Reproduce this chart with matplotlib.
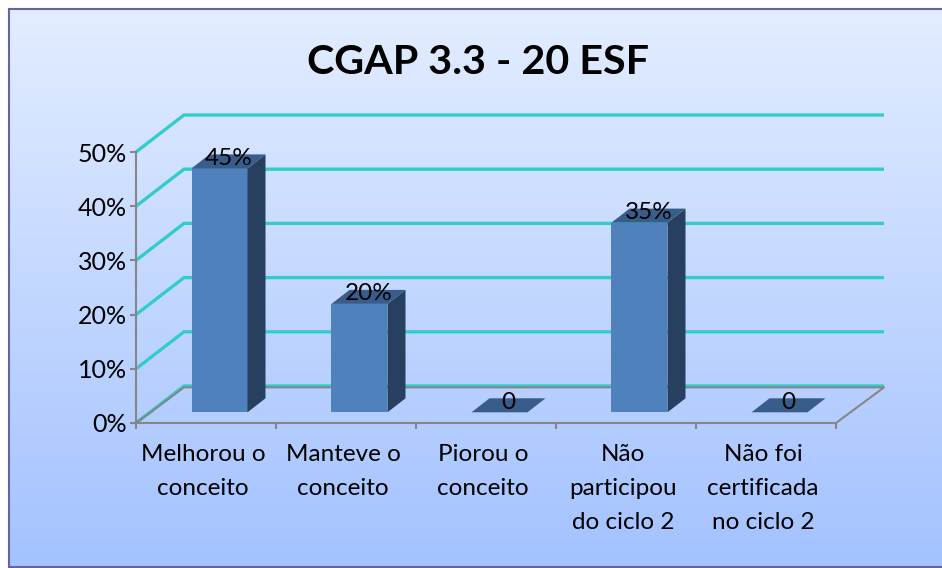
import numpy as np
import matplotlib
matplotlib.use("Agg")
import matplotlib.pyplot as plt
from matplotlib.colors import LinearSegmentedColormap
from matplotlib.patches import Polygon

plt.rcParams["font.family"] = ["Lato", "DejaVu Sans"]

TITLE = "CGAP 3.3 - 20 ESF"
CATEGORIES = [
    "Melhorou o\nconceito",
    "Manteve o\nconceito",
    "Piorou o\nconceito",
    "Não\nparticipou\ndo ciclo 2",
    "Não foi\ncertificada\nno ciclo 2",
]
VALUES = [45, 20, 0, 35, 0]
BAR_LABELS = ["45%", "20%", "0", "35%", "0"]
Y_TICKS = [0, 10, 20, 30, 40, 50]
Y_TICK_LABELS = ["0%", "10%", "20%", "30%", "40%", "50%"]

W, H = 942, 568
AX_LEFT, AX_RIGHT, AX_TOP, AX_BOTTOM = 136, 836, 152, 423
PX_X = (AX_RIGHT - AX_LEFT) / len(CATEGORIES)
PX_Y = (AX_BOTTOM - AX_TOP) / 50

# 3d look: offset of the back wall and of a bar's depth, in data units
WALL_DX, WALL_DY = 48 / PX_X, 37 / PX_Y
BAR_DX, BAR_DY = 18 / PX_X, 14 / PX_Y
BAR_START, BAR_W, BAR_BASE = 55.5 / PX_X, 56 / PX_X, 10.7 / PX_Y

CYAN = "#33CCCC"
GRAY = "#868686"
FRONT, SIDE, TOP = "#4F81BD", "#28405F", "#385D8A"


def draw_background(fig):
    bg = fig.add_axes([9 / W, 1 - 567 / H, (W - 9) / W, (567 - 9) / H])
    cmap = LinearSegmentedColormap.from_list("bg", ["#E3EDFF", "#A3C2FF"])
    bg.imshow(np.linspace(0, 1, 256).reshape(-1, 1), aspect="auto", cmap=cmap)
    bg.set_xticks([])
    bg.set_yticks([])
    bg.spines["right"].set_visible(False)
    for side in ["left", "top", "bottom"]:
        bg.spines[side].set_color("#65659B")
        bg.spines[side].set_linewidth(1.5)


def draw_walls(ax):
    n = len(CATEGORIES)
    for v in Y_TICKS:
        ax.plot([0, WALL_DX, n + WALL_DX], [v, v + WALL_DY, v + WALL_DY],
                color=CYAN, lw=2.4, clip_on=False, zorder=1,
                solid_joinstyle="miter", solid_capstyle="butt")
    ax.plot([0, WALL_DX, n + WALL_DX, n], [0, WALL_DY - 0.25, WALL_DY - 0.25, 0],
            color=GRAY, lw=1.5, clip_on=False, zorder=2)


def draw_bar(ax, i, value, label):
    x0 = i + BAR_START
    x1 = x0 + BAR_W
    y0 = BAR_BASE
    y1 = BAR_BASE + value
    if value > 0:
        ax.add_patch(Polygon([(x0, y0), (x1, y0), (x1, y1), (x0, y1)],
                             fc=FRONT, ec="none", zorder=3, clip_on=False))
        ax.add_patch(Polygon([(x1, y0), (x1 + BAR_DX, y0 + BAR_DY),
                              (x1 + BAR_DX, y1 + BAR_DY), (x1, y1)],
                             fc=SIDE, ec="none", zorder=3, clip_on=False))
    ax.add_patch(Polygon([(x0, y1), (x1, y1), (x1 + BAR_DX, y1 + BAR_DY),
                          (x0 + BAR_DX, y1 + BAR_DY)],
                         fc=TOP, ec="none", zorder=3, clip_on=False))
    ax.text((x0 + x1 + BAR_DX) / 2, y1 + BAR_DY / 2 + 0.6, label,
            ha="center", va="center", fontsize=17.5, color="black", zorder=4,
            clip_on=False)


def main():
    fig = plt.figure(figsize=(W / 100, H / 100), dpi=100, facecolor="white")
    draw_background(fig)

    ax = fig.add_axes([AX_LEFT / W, 1 - AX_BOTTOM / H,
                       (AX_RIGHT - AX_LEFT) / W, (AX_BOTTOM - AX_TOP) / H])
    ax.patch.set_visible(False)
    ax.set_xlim(0, len(CATEGORIES))
    ax.set_ylim(0, 50)

    draw_walls(ax)
    for i, (value, label) in enumerate(zip(VALUES, BAR_LABELS)):
        draw_bar(ax, i, value, label)

    for side in ["top", "right"]:
        ax.spines[side].set_visible(False)
    for side in ["left", "bottom"]:
        ax.spines[side].set_color(GRAY)
        ax.spines[side].set_linewidth(1.5)
        ax.spines[side].set_zorder(5)

    ax.set_yticks(Y_TICKS, Y_TICK_LABELS, fontsize=18)
    ax.tick_params(axis="y", length=4, width=1.5, color=GRAY, pad=2.5)
    ax.set_xticks(range(len(CATEGORIES) + 1), [""] * (len(CATEGORIES) + 1))
    ax.tick_params(axis="x", which="major", length=4, width=1.5, color=GRAY)
    ax.set_xticks(np.arange(len(CATEGORIES)) + 0.48, CATEGORIES, minor=True,
                  fontsize=17.5, linespacing=1.76, va="top")
    ax.tick_params(axis="x", which="minor", length=0, pad=15)

    fig.text(478 / W, 1 - 62 / H, TITLE, ha="center", va="center",
             fontsize=29.7, fontweight="bold", color="black")

    fig.savefig("out.png", dpi=100)


if __name__ == "__main__":
    main()
